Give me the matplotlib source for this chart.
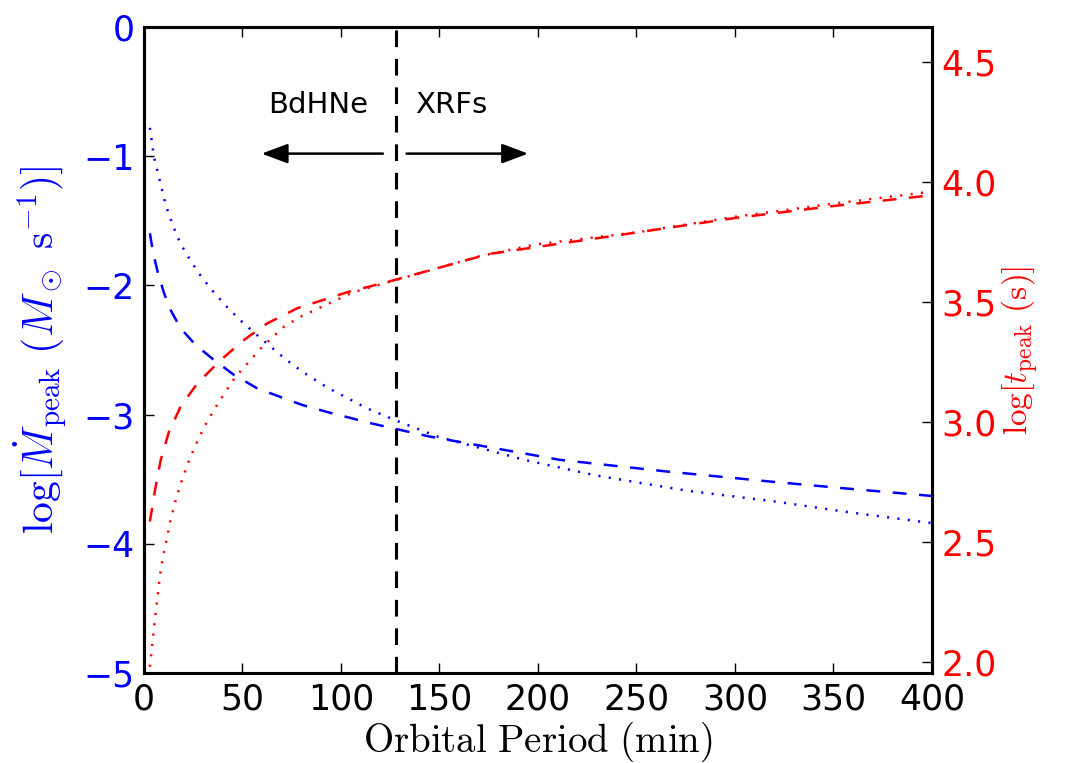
import matplotlib
matplotlib.use("Agg")
import matplotlib.pyplot as plt

plt.rcParams['mathtext.fontset'] = 'cm'
plt.rcParams['font.family'] = ['DejaVu Sans']
plt.rcParams['lines.scale_dashes'] = False

# orbital period (min) vs log values
p_mdot_dot = [3, 5, 8.8, 11, 14.4, 18.3, 23.4, 29.1, 35.2, 42, 49.1, 56.7, 64.3, 71.9, 80.4,
              93, 113, 127, 149, 193, 229, 276, 319, 355, 400]
mdot_dot = [-0.78, -1.0, -1.236, -1.378, -1.525, -1.67, -1.803, -1.933, -2.049, -2.165, -2.273,
            -2.376, -2.474, -2.572, -2.668, -2.79, -2.95, -3.04, -3.17, -3.35, -3.47, -3.59,
            -3.67, -3.75, -3.84]

p_mdot_dash = [3, 4.7, 7.1, 10.2, 13.5, 18.6, 26.2, 35.5, 45.7, 57.5, 71.1, 80.4, 93, 116, 145,
               211, 265, 319, 355, 400]
mdot_dash = [-1.597, -1.752, -1.906, -2.061, -2.19, -2.332, -2.461, -2.577, -2.693, -2.797,
             -2.874, -2.926, -2.98, -3.07, -3.17, -3.35, -3.44, -3.52, -3.57, -3.63]

p_t_dot = [3, 5.6, 8.1, 9.6, 13.5, 16.1, 19, 22.3, 26.2, 30.5, 35.5, 40.9, 46.5, 53.3, 60.1,
           71.1, 79.5, 106, 127, 170, 199, 250, 300, 350, 400]
t_dot = [1.98, 2.18, 2.36, 2.433, 2.592, 2.675, 2.751, 2.828, 2.904, 2.978, 3.05, 3.12, 3.189,
         3.251, 3.314, 3.397, 3.439, 3.54, 3.59, 3.69, 3.74, 3.79, 3.855, 3.91, 3.96]

p_t_dash = [3, 5.9, 8.5, 12.7, 18.6, 27.1, 38.9, 50.8, 62.6, 77.8, 87.7, 102.9, 127.4, 175, 247,
            300, 350, 400]
t_dash = [2.585, 2.73, 2.842, 2.96, 3.064, 3.161, 3.258, 3.342, 3.411, 3.474, 3.5, 3.54, 3.592,
          3.70, 3.786, 3.85, 3.90, 3.945]

p_split = 128

fig = plt.figure(figsize=(10.65, 7.63), dpi=100)
ax = fig.add_axes([0.1352, 0.118, 0.7399, 0.8466])
ax2 = ax.twinx()

ax.plot(p_mdot_dot, mdot_dot, color='blue', lw=1.8, dashes=(1.5, 6))
ax.plot(p_mdot_dash, mdot_dash, color='blue', lw=1.8, dashes=(10, 9))
ax2.plot(p_t_dot, t_dot, color='red', lw=1.8, dashes=(1.5, 6))
ax2.plot(p_t_dash, t_dash, color='red', lw=1.8, dashes=(10, 9))

ax.axvline(p_split, color='black', lw=2.2, dashes=(12, 8.5))

arr = dict(arrowstyle='-|>,head_length=0.8,head_width=0.3', mutation_scale=20,
           lw=1.8, color='black', shrinkA=0, shrinkB=0)
ax.annotate('', xy=(59.7, -0.98), xytext=(121.3, -0.98), arrowprops=arr)
ax.annotate('', xy=(195, -0.98), xytext=(133.3, -0.98), arrowprops=arr)
ax.text(88.5, -0.6, 'BdHNe', fontsize=21, ha='center', va='center')
ax.text(156, -0.6, 'XRFs', fontsize=21, ha='center', va='center')

ax.set_xlim(0, 400)
ax.set_ylim(-5, 0)
ax2.set_ylim(1.954, 4.646)
ax.set_xticks(range(0, 401, 50))
ax.set_yticks(range(-5, 1))
ax2.set_yticks([2.0, 2.5, 3.0, 3.5, 4.0, 4.5])
ax2.set_yticklabels(['2.0', '2.5', '3.0', '3.5', '4.0', '4.5'])

ax.set_xlabel(r'$\mathrm{Orbital\ Period\ (min)}$', fontsize=28, labelpad=2)
ax.set_ylabel(r'$\log[\dot{M}_{\rm peak}\ (M_\odot\ {\rm s}^{-1})]$', fontsize=30, color='blue', labelpad=10)
ax2.set_ylabel(r'$\log[t_{\rm peak}\ ({\rm s})]$', fontsize=24, color='red', labelpad=2)

ax.tick_params(axis='x', direction='in', top=True, length=7, width=1, labelsize=25, pad=7)
ax.tick_params(axis='y', direction='in', length=7, width=1, labelsize=25, labelcolor='blue', pad=7)
ax2.tick_params(axis='y', direction='in', length=7, width=1, labelsize=25, labelcolor='red', pad=7)

for a in (ax, ax2):
    for s in a.spines.values():
        s.set_linewidth(2.2)

fig.savefig('out.png', dpi=100)
